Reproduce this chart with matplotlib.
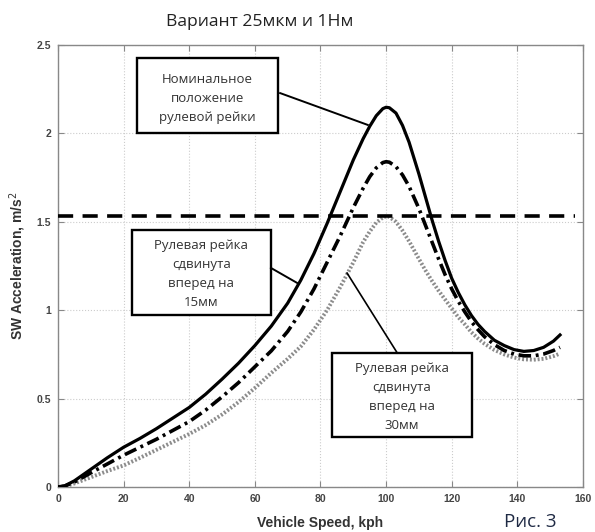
import matplotlib
matplotlib.use("Agg")
import matplotlib.pyplot as plt
from matplotlib.patches import Rectangle

# speed grid (kph) and the three response curves
speed = [0, 2, 5, 10, 15, 20, 25, 30, 35, 40, 45, 50, 55, 60, 65, 70, 74, 78, 82,
         86, 90, 93, 95, 97, 99, 100, 101, 103, 105, 107, 110, 112, 114, 116, 118,
         120, 122, 124, 126, 128, 130, 133, 136, 139, 142, 145, 148, 151, 153]
nominal = [0, 0.006, 0.035, 0.10, 0.165, 0.225, 0.275, 0.33, 0.39, 0.45, 0.525,
           0.61, 0.70, 0.80, 0.91, 1.04, 1.17, 1.32, 1.49, 1.67, 1.85, 1.97, 2.04,
           2.10, 2.14, 2.148, 2.145, 2.115, 2.045, 1.95, 1.77, 1.64, 1.51, 1.39,
           1.28, 1.18, 1.10, 1.03, 0.97, 0.92, 0.88, 0.83, 0.80, 0.777, 0.767,
           0.772, 0.79, 0.825, 0.86]
shift15 = [0, 0.005, 0.028, 0.08, 0.13, 0.18, 0.225, 0.27, 0.32, 0.37, 0.435,
           0.51, 0.59, 0.68, 0.77, 0.88, 0.99, 1.12, 1.27, 1.42, 1.58, 1.69, 1.755,
           1.805, 1.835, 1.84, 1.837, 1.812, 1.765, 1.70, 1.575, 1.48, 1.385, 1.29,
           1.20, 1.12, 1.05, 0.99, 0.935, 0.89, 0.85, 0.805, 0.772, 0.752, 0.742,
           0.742, 0.752, 0.772, 0.79]
shift30 = [0, 0.003, 0.02, 0.055, 0.09, 0.122, 0.165, 0.21, 0.255, 0.30, 0.35,
           0.41, 0.48, 0.56, 0.645, 0.725, 0.795, 0.89, 1.00, 1.13, 1.27, 1.385,
           1.445, 1.495, 1.525, 1.53, 1.527, 1.50, 1.45, 1.39, 1.29, 1.225, 1.165,
           1.11, 1.06, 1.01, 0.96, 0.92, 0.875, 0.84, 0.81, 0.775, 0.75, 0.732,
           0.722, 0.72, 0.725, 0.74, 0.755]
limit_x = [0, 157.5]
limit_y = [1.53, 1.53]

xticks = [0, 20, 40, 60, 80, 100, 120, 140, 160]
yticks = [0, 0.5, 1, 1.5, 2, 2.5]
ytick_labels = ["0", "0.5", "1", "1.5", "2", "2.5"]

label_nominal = "Номинальное\nположение\nрулевой рейки"
label_15 = "Рулевая рейка\nсдвинута\nвперед на\n15мм"
label_30 = "Рулевая рейка\nсдвинута\nвперед на\n30мм"

ru_font = ["Open Sans", "DejaVu Sans"]

fig = plt.figure(figsize=(5.95, 5.32), dpi=100)
ax = fig.add_axes([0.0975, 0.0846, 0.8823, 0.8308])

ax.plot(speed, nominal, color="black", lw=2.3, zorder=4)
ax.plot(speed, shift15, color="black", lw=2.6, linestyle=(0, (3.5, 1.3, 0.8, 1.3)), zorder=4)
ax.plot(speed, shift30, color="#8c8c8c", lw=2.8, linestyle=(0, (0.5, 0.5)), zorder=3)
ax.plot(limit_x, limit_y, color="black", lw=2.6, linestyle=(0, (4.2, 2.6)), zorder=5)

ax.set_xlim(0, 160)
ax.set_ylim(0, 2.5)
ax.set_xticks(xticks)
ax.set_yticks(yticks)
ax.set_yticklabels(ytick_labels)
ax.tick_params(direction="in", length=4, width=0.8, colors="#888888",
               labelcolor="#444444", labelsize=7.5, top=True, right=True, pad=5)
for lab in ax.get_xticklabels() + ax.get_yticklabels():
    lab.set_fontweight("bold")
    lab.set_family("Liberation Sans")
ax.grid(True, color="#cccccc", linestyle=":", lw=0.8)
for s in ax.spines.values():
    s.set_color("#888888")
    s.set_linewidth(1.0)

ax.set_xlabel("Vehicle Speed, kph", fontsize=10, fontweight="bold",
              family="Liberation Sans", color="#333333", labelpad=9)
ax.set_ylabel("SW Acceleration, m/s$^2$", fontsize=10, fontweight="bold",
              family="Liberation Sans", color="#333333", labelpad=6)

fig.text(0.437, 0.9586, "Вариант 25мкм и 1Нм", ha="center", va="center",
         fontsize=12.6, family=ru_font, color="#222222")
fig.text(0.891, 0.019, "Рис. 3", ha="center", va="center",
         fontsize=13.5, family=ru_font, color="#1f2a44")

# callout boxes (axes fractions) and their text
boxes = [((0.150, 0.801), 0.269, 0.170, (0.285, 0.880), label_nominal),
         ((0.141, 0.389), 0.265, 0.192, (0.273, 0.482), label_15),
         ((0.522, 0.113), 0.267, 0.190, (0.655, 0.204), label_30)]
for (x0, y0), w, h, (tx, ty), txt in boxes:
    ax.add_patch(Rectangle((x0, y0), w, h, transform=ax.transAxes, fc="white",
                           ec="black", lw=1.7, zorder=6))
    ax.text(tx, ty, txt, transform=ax.transAxes, ha="center", va="center",
            fontsize=9.5, family=ru_font, color="#333333", linespacing=1.6,
            zorder=7)

# pointer lines from the boxes to the curves
ax.plot([67.7, 94.4], [2.228, 2.048], color="black", lw=1.4, zorder=6)
ax.plot([64.9, 72.9], [1.239, 1.154], color="black", lw=1.4, zorder=6)
ax.plot([103.4, 88.1], [0.758, 1.21], color="black", lw=1.2, zorder=6)

fig.savefig("out.png", dpi=100)
